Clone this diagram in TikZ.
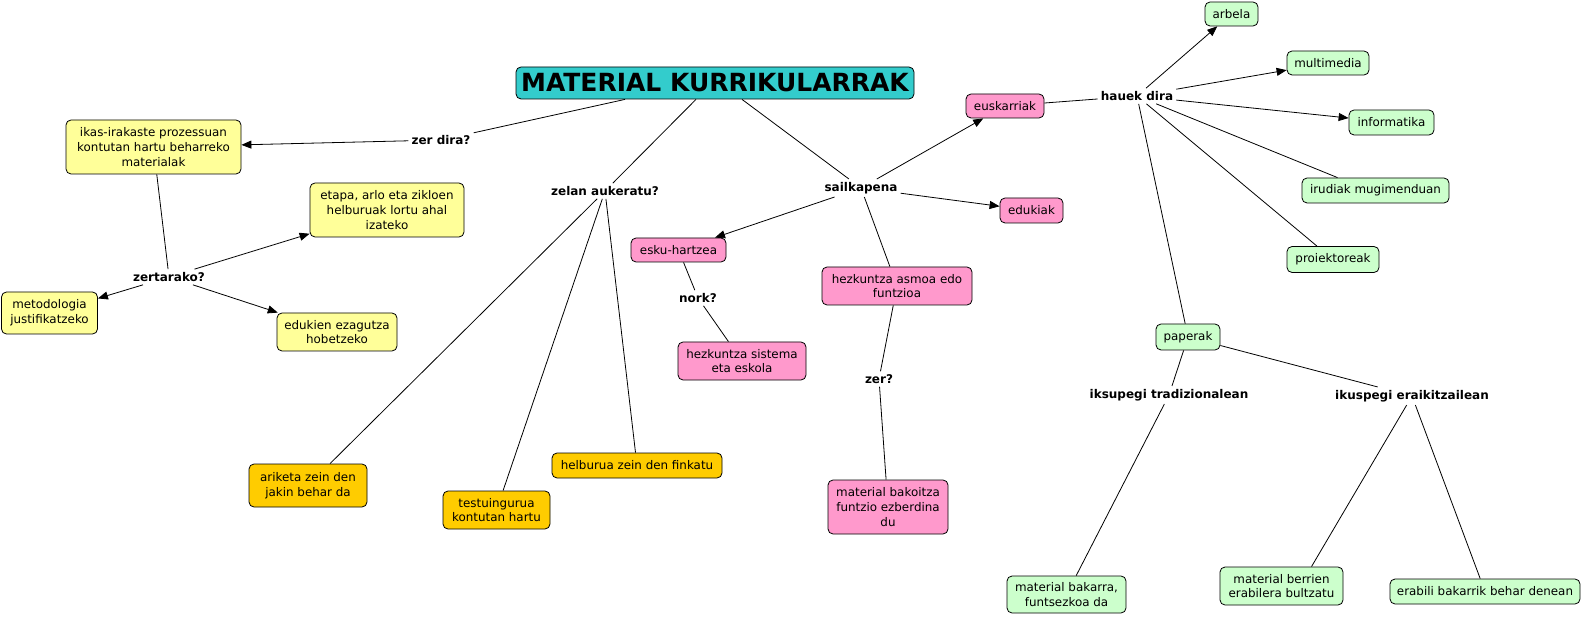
\documentclass[tikz,border=0pt]{standalone}
\usepackage{fontspec}
\setmainfont{DejaVu Sans}
\usetikzlibrary{arrows.meta}
\definecolor{cyel}{HTML}{FFFF99}
\definecolor{corg}{HTML}{FFCC00}
\definecolor{cpink}{HTML}{FF99CC}
\definecolor{cgreen}{HTML}{CCFFCC}
\definecolor{cteal}{HTML}{33CCCC}
\tikzset{
  box/.style={draw=black, line width=0.8pt, rounded corners=5pt, align=center, inner sep=0pt,
    font=\fontsize{11.9}{14.7}\selectfont, text=black},
  sz/.style 2 args={minimum width=#1pt, minimum height=#2pt},
  yel/.style={box, fill=cyel},
  org/.style={box, fill=corg},
  pnk/.style={box, fill=cpink},
  grn/.style={box, fill=cgreen},
  lab/.style={font=\bfseries\fontsize{12}{14}\selectfont, inner sep=3pt, text=black},
  con/.style={line width=0.8pt, draw=black},
  arr/.style={con, -{Triangle[length=10pt,width=8pt]}},
}
\begin{document}
\begin{tikzpicture}[x=1pt,y=-1pt]
\useasboundingbox (0,0) rectangle (1587,617);
% title
\node[box, fill=cteal, sz={398}{32}, font=\bfseries\fontsize{25}{28}\selectfont] (title) at (715,83) {MATERIAL KURRIKULARRAK};
% yellow
\node[yel, sz={175}{54}] (ikas) at (153.5,147) {ikas-irakaste prozessuan\\kontutan hartu beharreko\\materialak};
\node[yel, sz={154}{54}] (etapa) at (387,210) {etapa, arlo eta zikloen\\helburuak lortu ahal\\izateko};
\node[yel, sz={96}{42}] (metod) at (49.5,313) {metodologia\\justifikatzeko};
\node[yel, sz={120}{38}] (eduk) at (337,332) {edukien ezagutza\\hobetzeko};
% orange
\node[org, sz={118}{43}] (arik) at (308,485.5) {ariketa zein den\\jakin behar da};
\node[org, sz={107}{38}] (testu) at (496.5,510) {testuingurua\\kontutan hartu};
\node[org, sz={170}{25}] (helb) at (637,465.5) {helburua zein den finkatu};
% pink
\node[pnk, sz={95}{24}] (esku) at (678.5,250) {esku-hartzea};
\node[pnk, sz={128}{38}] (sist) at (742,361) {hezkuntza sistema\\eta eskola};
\node[pnk, sz={150}{38}] (asmoa) at (897,286) {hezkuntza asmoa edo\\funtzioa};
\node[pnk, sz={120}{54}] (bakoi) at (888,507) {material bakoitza\\funtzio ezberdina\\du};
\node[pnk, sz={78}{24}] (eusk) at (1005,106) {euskarriak};
\node[pnk, sz={63}{25}] (edukiak) at (1031.5,210.5) {edukiak};
% green
\node[grn, sz={53}{24}] (arbela) at (1231.5,14) {arbela};
\node[grn, sz={82}{24}] (multi) at (1328,63) {multimedia};
\node[grn, sz={85}{25}] (infor) at (1391.5,122.5) {informatika};
\node[grn, sz={147}{25}] (irudi) at (1375.5,190.5) {irudiak mugimenduan};
\node[grn, sz={92}{26}] (proiek) at (1333,259.5) {proiektoreak};
\node[grn, sz={64}{26}] (paper) at (1188,337) {paperak};
\node[grn, sz={119}{37}] (bakar) at (1066.5,594.5) {material bakarra,\\funtsezkoa da};
\node[grn, sz={123}{38}] (berri) at (1281.5,586) {material berrien\\erabilera bultzatu};
\node[grn, sz={190}{25}] (erabi) at (1485,591.5) {erabili bakarrik behar denean};
% labels
\node[lab] (zerdira) at (441,140) {zer dira?};
\node[lab] (zertar) at (169,277) {zertarako?};
\node[lab] (zelan) at (605,191) {zelan aukeratu?};
\node[lab] (sailk) at (861,188) {sailkapena};
\node[lab] (nork) at (698,298) {nork?};
\node[lab] (zer) at (879,379) {zer?};
\node[lab] (hauek) at (1137,96) {hauek dira};
\node[lab] (trad) at (1169,395) {iksupegi tradizionalean};
\node[lab] (eraik) at (1412,396) {ikuspegi eraikitzailean};
% connectors
\draw[con] ([xshift=-90pt]title.south) -- (zerdira);
\draw[arr] (zerdira) -- (ikas);
\draw[con] (ikas) -- (zertar);
\draw[arr] (zertar) -- (etapa);
\draw[arr] (zertar) -- (metod);
\draw[arr] (zertar) -- (eduk);
\draw[con] ([xshift=-19pt]title.south) -- (zelan);
\draw[con] (zelan) -- (arik);
\draw[con] (zelan) -- (testu);
\draw[con] (zelan) -- (helb);
\draw[con] ([xshift=27pt]title.south) -- (sailk);
\draw[arr] (sailk) -- (eusk);
\draw[arr] (sailk) -- (edukiak);
\draw[arr] (sailk) -- (esku);
\draw[con] (sailk) -- (asmoa);
\draw[con] (esku) -- (nork);
\draw[con] (nork) -- (sist);
\draw[con] (asmoa) -- (zer);
\draw[con] (zer) -- (bakoi);
\draw[con] (eusk) -- (hauek);
\draw[arr] (hauek) -- (arbela);
\draw[arr] (hauek) -- (multi);
\draw[arr] (hauek) -- (infor);
\draw[con] (hauek) -- ([xshift=-38pt]irudi.north);
\draw[con] (hauek) -- (proiek);
\draw[con] (hauek) -- (paper);
\draw[con] (paper) -- (trad);
\draw[con] (paper) -- (eraik);
\draw[con] (trad) -- (bakar);
\draw[con] (eraik) -- ([xshift=30pt]berri.north);
\draw[con] (eraik) -- (erabi);
\end{tikzpicture}
\end{document}
